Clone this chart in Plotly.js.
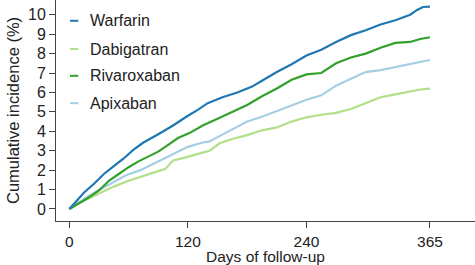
<!DOCTYPE html>
<html>
<head>
<meta charset="utf-8">
<script src="https://cdn.plot.ly/plotly-3.0.1.min.js"></script>
<style>html,body{margin:0;padding:0;background:#fff;}#chart{width:475px;height:265px;}</style>
</head>
<body>
<div id="chart"></div>
<script>
// Series names and colors
const seriesNames = ["Warfarin", "Dabigatran", "Rivaroxaban", "Apixaban"];
const seriesColors = ["#1f78b4", "#b2df8a", "#33a02c", "#a6cee3"];

// Days of follow-up (per series) and cumulative incidence (%)
const warfarinDays = [0, 10, 15, 25, 35, 45, 55, 65, 75, 90, 97, 105, 120, 130, 140, 155, 170, 185, 195, 210, 225, 240, 255, 270, 285, 300, 315, 330, 345, 352, 358, 365];
const warfarinVals = [0, 0.55, 0.85, 1.3, 1.8, 2.2, 2.6, 3.05, 3.42, 3.85, 4.05, 4.3, 4.8, 5.1, 5.45, 5.75, 6.0, 6.3, 6.6, 7.05, 7.45, 7.9, 8.2, 8.6, 8.95, 9.2, 9.5, 9.72, 10.0, 10.25, 10.4, 10.42];

const dabigatranDays = [0, 10, 20, 30, 45, 60, 72, 90, 97, 105, 115, 120, 135, 142, 152, 165, 180, 195, 210, 225, 240, 255, 270, 285, 300, 315, 330, 345, 355, 365];
const dabigatranVals = [0, 0.3, 0.55, 0.8, 1.15, 1.45, 1.66, 1.95, 2.05, 2.5, 2.62, 2.7, 2.9, 3.0, 3.38, 3.6, 3.8, 4.05, 4.2, 4.5, 4.72, 4.85, 4.95, 5.15, 5.45, 5.75, 5.9, 6.05, 6.15, 6.2];

const rivaroxabanDays = [0, 10, 20, 30, 40, 50, 60, 70, 80, 90, 100, 110, 122, 135, 150, 165, 180, 195, 210, 225, 240, 255, 270, 285, 300, 315, 330, 345, 355, 365];
const rivaroxabanVals = [0, 0.3, 0.6, 0.95, 1.45, 1.8, 2.15, 2.45, 2.7, 2.95, 3.3, 3.65, 3.92, 4.3, 4.65, 5.0, 5.35, 5.8, 6.2, 6.65, 6.93, 7.0, 7.5, 7.8, 8.0, 8.3, 8.55, 8.6, 8.75, 8.84];

const apixabanDays = [0, 10, 20, 30, 45, 58, 72, 90, 105, 120, 135, 142, 150, 165, 180, 195, 210, 225, 240, 255, 270, 285, 300, 315, 330, 345, 355, 365];
const apixabanVals = [0, 0.35, 0.68, 0.98, 1.4, 1.75, 2.0, 2.45, 2.85, 3.2, 3.42, 3.48, 3.7, 4.1, 4.5, 4.75, 5.05, 5.35, 5.62, 5.85, 6.35, 6.7, 7.05, 7.15, 7.3, 7.45, 7.55, 7.67];

// Axis ticks
const xTickVals = [0, 120, 240, 365];
const yTickVals = [0, 1, 2, 3, 4, 5, 6, 7, 8, 9, 10];

const allDays = [warfarinDays, dabigatranDays, rivaroxabanDays, apixabanDays];
const allVals = [warfarinVals, dabigatranVals, rivaroxabanVals, apixabanVals];

const font = "Liberation Sans, Arial, sans-serif";
const drawOrder = [1, 3, 2, 0];
const traces = drawOrder.map(i => ({
  x: allDays[i], y: allVals[i], type: "scatter", mode: "lines",
  name: seriesNames[i], line: {color: seriesColors[i], width: 2.2}, showlegend: false
}));

const legendY = [0.906, 0.778, 0.657, 0.533];
const annotations = seriesNames.map((n, i) => ({
  xref: "paper", yref: "paper", x: 0.0764, y: legendY[i], text: n,
  showarrow: false, xanchor: "left", yanchor: "middle",
  font: {family: font, size: 16, color: "#222"}
}));
const shapes = seriesNames.map((n, i) => ({
  type: "line", xref: "paper", yref: "paper",
  x0: 0.0334, x1: 0.0532, y0: legendY[i], y1: legendY[i],
  line: {color: seriesColors[i], width: 2}
}));

const layout = {
  width: 475, height: 265,
  margin: {l: 56, r: 0, t: 0, b: 44},
  paper_bgcolor: "#fff", plot_bgcolor: "#fff",
  font: {family: font, color: "#222"},
  showlegend: false,
  xaxis: {
    range: [-13.5, 410.6], tickvals: xTickVals, ticktext: xTickVals.map(String),
    ticks: "outside", ticklen: 6, tickcolor: "#444", showline: true, linecolor: "#444", linewidth: 1,
    showgrid: false, zeroline: false, tickfont: {size: 15.5, family: font, color: "#222"},
    title: {text: "Days of follow-up", font: {size: 15.5, family: font, color: "#222"}, standoff: 3}
  },
  yaxis: {
    range: [-0.62, 10.76], tickvals: yTickVals, ticktext: yTickVals.map(String),
    ticks: "outside", ticklen: 6, tickcolor: "#444", showline: true, linecolor: "#444", linewidth: 1,
    showgrid: false, zeroline: false, tickfont: {size: 16, family: font, color: "#222"},
    title: {text: "Cumulative incidence (%)", font: {size: 16.5, family: font, color: "#222"}, standoff: 4}
  },
  annotations: annotations,
  shapes: shapes
};

Plotly.newPlot("chart", traces, layout, {displayModeBar: false, staticPlot: true});
</script>
</body>
</html>
